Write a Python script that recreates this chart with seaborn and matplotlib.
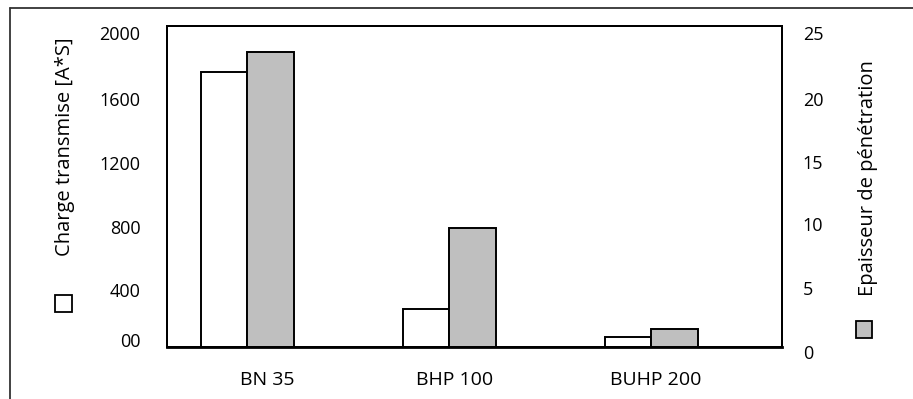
import matplotlib
matplotlib.use("Agg")
import matplotlib.pyplot as plt
import matplotlib.transforms as mtransforms
from matplotlib.lines import Line2D
from matplotlib.patches import Rectangle
import seaborn as sns
import pandas as pd

# ---- data ----
categories = ["BN 35", "BHP 100", "BUHP 200"]
charge = [1715, 237, 62]          # Charge transmise [A*S]  (left axis)
epaisseur = [23.0, 9.3, 1.4]      # Epaisseur de pénétration (right axis)
left_ticks = [0, 400, 800, 1200, 1600, 2000]
left_tick_labels = ["00", "400", "800", "1200", "1600", "2000"]
right_ticks = [0, 5, 10, 15, 20, 25]
series = ["Charge", "Epaisseur"]

sns.set_theme(style="white")
plt.rcParams["font.family"] = ["Open Sans", "DejaVu Sans"]

W, H = 913, 399
fig = plt.figure(figsize=(W / 100, H / 100), dpi=100)
ax = fig.add_axes([167 / W, 1 - 347 / H, (782 - 167) / W, (347 - 26) / H])
ax2 = ax.twinx()

df1 = pd.DataFrame({"cat": categories, "val": charge, "serie": series[0]})
df2 = pd.DataFrame({"cat": categories, "val": epaisseur, "serie": series[1]})
pal = {series[0]: "white", series[1]: "#bfbfbf"}

sns.barplot(data=df1, x="cat", y="val", hue="serie", hue_order=series,
            order=categories, palette=pal, width=0.46, dodge=True,
            edgecolor="black", linewidth=1.4, legend=False, ax=ax, errorbar=None)
sns.barplot(data=df2, x="cat", y="val", hue="serie", hue_order=series,
            order=categories, palette=pal, width=0.46, dodge=True,
            edgecolor="black", linewidth=1.4, legend=False, ax=ax2, errorbar=None)

ax.set_xlim(-0.398, 2.646)
ax.set_ylim(0, 2000)
ax2.set_ylim(0, 25)

ax.set_yticks(left_ticks)
ax.set_yticklabels(left_tick_labels)
ax2.set_yticks(right_ticks)
ax2.set_yticklabels([str(t) for t in right_ticks])

ax.set_xlabel("")
ax.set_ylabel("Charge transmise [A*S]", fontsize=14.5, color="black",
              va="center", ha="center")
ax.yaxis.set_label_coords(-0.166, 0.623)
ax2.set_ylabel("Epaisseur de pénétration", fontsize=14.5, color="black",
               rotation=90, va="center", ha="center")
ax2.yaxis.set_label_coords(1.140, 0.526)

ax.tick_params(axis="y", length=0, pad=19, labelsize=13, labelcolor="black")
ax2.tick_params(axis="y", length=0, pad=15, labelsize=13, labelcolor="black")
ax.tick_params(axis="x", length=0, pad=17, labelsize=14, labelcolor="black")


def shift(label, dx, dy):
    label.set_transform(label.get_transform() +
                        mtransforms.ScaledTranslation(dx / 100, dy / 100,
                                                      fig.dpi_scale_trans))


# small per-label offsets, as in the reference layout
for lab, dx in zip(ax.get_xticklabels(), [20, 5, 4]):
    shift(lab, dx, 0)
for lab, dy in zip(ax.get_yticklabels(), [7, -7, -8, -9, -9, -7]):
    shift(lab, 0, dy)
for lab, dy in zip(ax2.get_yticklabels(), [-5, -5, -5, -8, -9, -7]):
    shift(lab, 0, dy)

for a in (ax, ax2):
    for s in a.spines.values():
        s.set_color("black")
        s.set_linewidth(1.4)
ax.spines["bottom"].set_linewidth(2.0)

# outer frame (left and top edges)
fig.add_artist(Line2D([10 / W, 10 / W], [0, 1 - 8 / H], transform=fig.transFigure,
                      color="#333333", lw=1.3))
fig.add_artist(Line2D([10 / W, 1], [1 - 8 / H, 1 - 8 / H], transform=fig.transFigure,
                      color="#333333", lw=1.3))

# legend keys
fig.add_artist(Rectangle((55 / W, 1 - 312 / H), 17 / W, 17 / H, transform=fig.transFigure,
                         facecolor="white", edgecolor="black", lw=1.3))
fig.add_artist(Rectangle((856 / W, 1 - 338 / H), 16 / W, 17 / H, transform=fig.transFigure,
                         facecolor="#bfbfbf", edgecolor="black", lw=1.3))

fig.savefig("out.png", dpi=100)
